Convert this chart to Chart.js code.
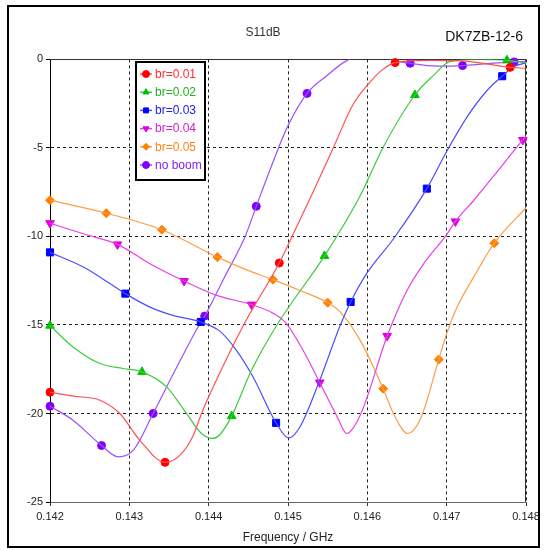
<!DOCTYPE html>
<html>
<head>
<meta charset="utf-8">
<title>S11dB DK7ZB-12-6</title>
<script src="https://cdn.jsdelivr.net/npm/chart.js@4.4.1/dist/chart.umd.min.js"></script>
<style>
  html, body { margin: 0; padding: 0; background: #fff; }
</style>
</head>
<body>
<canvas id="chart" width="545" height="550"></canvas>
<script>
// axis ticks
const xTicks = [0.142, 0.143, 0.144, 0.145, 0.146, 0.147, 0.148];
const yTicks = [0, -5, -10, -15, -20, -25];
const names = ['br=0.01', 'br=0.02', 'br=0.03', 'br=0.04', 'br=0.05', 'no boom'];

// S11 curves, [GHz, dB] (points between the markers)
const curve001 = [[0.1423,-19.02],[0.14263,-19.25],[0.14288,-20.0],[0.14313,-21.5],[0.14364,-22.35],[0.1438,-21.3],[0.14391,-20.0],[0.144,-19.06],[0.14444,-15.0],[0.14503,-10.2],[0.1453,-7.65],[0.14557,-5.0],[0.14582,-2.55],[0.14604,-1.25],[0.1462,-0.55],[0.1468,-0.05],[0.1472,-0.08],[0.1475,-0.25],[0.148,-0.5]];
const curve002 = [[0.14229,-16.24],[0.14263,-17.18],[0.14292,-17.46],[0.14347,-18.5],[0.14372,-20.0],[0.14391,-21.13],[0.14405,-21.41],[0.14414,-21.2],[0.14454,-17.56],[0.14486,-15.0],[0.14591,-7.7],[0.1462,-4.96],[0.14683,-0.92],[0.14704,-0.13],[0.1474,0.0],[0.148,-0.2]];
const curve003 = [[0.14242,-11.73],[0.14276,-12.67],[0.14326,-13.99],[0.14355,-14.46],[0.14414,-15.35],[0.14435,-16.43],[0.14456,-17.94],[0.14501,-21.38],[0.14515,-20.76],[0.1454,-18.12],[0.14566,-15.0],[0.14599,-12.1],[0.14633,-10.13],[0.147,-5.2],[0.14725,-3.3],[0.1475,-1.8],[0.14785,-0.4],[0.148,-0.2]];
const curve004 = [[0.14242,-9.85],[0.14326,-11.54],[0.1441,-13.33],[0.14482,-14.36],[0.14498,-14.92],[0.14519,-16.43],[0.14562,-20.19],[0.14574,-21.13],[0.14591,-20.1],[0.1465,-13.05],[0.14671,-11.54],[0.147,-9.9],[0.14734,-7.97],[0.14759,-6.6],[0.148,-4.35]];
const curve005 = [[0.14444,-11.82],[0.14515,-13.05],[0.14566,-14.27],[0.14591,-15.87],[0.14635,-20.2],[0.14651,-21.13],[0.14667,-20.3],[0.147,-15.5],[0.14713,-14.0],[0.14734,-12.3],[0.148,-8.38]];
const curveNoBoom = [[0.14229,-20.38],[0.14286,-22.45],[0.14305,-22.07],[0.14355,-17.8],[0.14388,-15.0],[0.1442,-12.3],[0.14446,-10.0],[0.14488,-5.0],[0.145,-3.74],[0.14549,-0.92],[0.14574,-0.07],[0.146,0.25],[0.1462,0.15],[0.14635,-0.07],[0.14688,-0.38],[0.14755,-0.22],[0.148,-0.12]];

// marker points of each curve
const marks001 = [[0.142,-18.8],[0.14345,-22.76],[0.14489,-11.5],[0.14635,-0.18],[0.1478,-0.45]];
const marks002 = [[0.142,-15.04],[0.14316,-17.65],[0.14429,-20.15],[0.14546,-11.1],[0.1466,-2.01],[0.14776,-0.05]];
const marks003 = [[0.142,-10.9],[0.14295,-13.23],[0.1439,-14.83],[0.14485,-20.53],[0.14579,-13.7],[0.14675,-7.3],[0.1477,-0.95]];
const marks004 = [[0.142,-9.25],[0.14285,-10.45],[0.14369,-12.52],[0.14454,-13.85],[0.1454,-18.25],[0.14625,-15.62],[0.14711,-9.15],[0.14796,-4.55]];
const marks005 = [[0.142,-7.95],[0.14271,-8.69],[0.14341,-9.62],[0.14411,-11.17],[0.14481,-12.44],[0.1455,-13.74],[0.1462,-18.6],[0.1469,-16.95],[0.1476,-10.38]];
const marksNoBoom = [[0.142,-19.59],[0.14265,-21.81],[0.1433,-20.0],[0.14395,-14.5],[0.1446,-8.3],[0.14524,-1.92],[0.14654,-0.22],[0.1472,-0.35],[0.14785,-0.15]];

const curves = [curve001, curve002, curve003, curve004, curve005, curveNoBoom];
const marks = [marks001, marks002, marks003, marks004, marks005, marksNoBoom];

// look of each series
const styles = [
  { line: '#ff5050', mark: '#ff0000', text: '#ff2a2a', shape: 'circle', rot: 0, r: 4 },
  { line: '#3ccc3c', mark: '#00c000', text: '#20b020', shape: 'triangle', rot: 0, r: 5 },
  { line: '#4d4dff', mark: '#0000ff', text: '#2020f0', shape: 'rect', rot: 0, r: 5 },
  { line: '#e640e6', mark: '#e000e0', text: '#d020d0', shape: 'triangle', rot: 180, r: 5 },
  { line: '#ff9d45', mark: '#ff8000', text: '#ff8010', shape: 'rectRot', rot: 0, r: 4.5 },
  { line: '#9d50ff', mark: '#8000ff', text: '#8020f0', shape: 'circle', rot: 0, r: 4 }
];

const FONT = '"Liberation Sans", Arial, sans-serif';
const toXY = arr => arr.map(([x, y]) => ({ x, y }));

const datasets = [];
curves.forEach((c, i) => {
  const s = styles[i];
  const pts = c.concat(marks[i]).sort((a, b) => a[0] - b[0]);
  datasets.push({
    label: names[i], data: toXY(pts), borderColor: s.line, borderWidth: 1.2,
    pointRadius: 0, cubicInterpolationMode: 'monotone', fill: false
  });
  datasets.push({
    label: names[i] + ' markers', data: toXY(marks[i]), showLine: false,
    pointStyle: s.shape, pointRotation: s.rot, pointRadius: s.r,
    backgroundColor: s.mark, borderColor: s.mark, borderWidth: 1, clip: false
  });
});

// frame, box round plot, header text and in-plot legend
const decor = {
  id: 'decor',
  beforeDatasetsDraw(chart) {
    const { ctx, chartArea: a } = chart;
    ctx.save();
    ctx.strokeStyle = '#333';
    ctx.lineWidth = 1;
    ctx.beginPath();
    ctx.moveTo(a.left, Math.round(a.top) + 0.5);
    ctx.lineTo(a.right, Math.round(a.top) + 0.5);
    ctx.moveTo(Math.round(a.right) - 0.5, a.top);
    ctx.lineTo(Math.round(a.right) - 0.5, a.bottom);
    ctx.stroke();
    ctx.restore();
  },
  afterDraw(chart) {
    const ctx = chart.ctx;
    ctx.save();
    // outer frame
    ctx.strokeStyle = '#000';
    ctx.lineWidth = 2;
    ctx.strokeRect(8, 6, 531, 541);
    // right-hand header
    ctx.fillStyle = '#111';
    ctx.font = '14px ' + FONT;
    ctx.textAlign = 'right';
    ctx.textBaseline = 'middle';
    ctx.fillText('DK7ZB-12-6', 523, 37);
    // legend
    ctx.fillStyle = '#fff';
    ctx.fillRect(136, 62, 69, 118);
    ctx.strokeStyle = '#000';
    ctx.lineWidth = 2;
    ctx.strokeRect(136, 62, 69, 118);
    ctx.textAlign = 'left';
    ctx.font = '12px ' + FONT;
    names.forEach((n, i) => {
      const s = styles[i];
      const y = 74 + i * 18.2;
      ctx.strokeStyle = s.line;
      ctx.lineWidth = 1.5;
      ctx.beginPath();
      ctx.moveTo(140, y);
      ctx.lineTo(152, y);
      ctx.stroke();
      ctx.fillStyle = s.mark;
      ctx.strokeStyle = s.mark;
      ctx.lineWidth = 1;
      Chart.helpers.drawPoint(ctx, { pointStyle: s.shape, rotation: s.rot, radius: 3.5, borderWidth: 1 }, 146, y);
      ctx.fillStyle = s.text;
      ctx.fillText(n, 155, y + 0.5);
    });
    ctx.restore();
  }
};

new Chart(document.getElementById('chart'), {
  type: 'line',
  data: { datasets },
  plugins: [decor],
  options: {
    responsive: false,
    animation: false,
    layout: { padding: { left: 0, right: 19, top: 0, bottom: 0 } },
    plugins: {
      legend: { display: false },
      tooltip: { enabled: false },
      title: {
        display: true, text: 'S11dB', color: '#333',
        font: { family: FONT, size: 12, weight: 'normal' },
        padding: { top: 25, bottom: 20 }
      }
    },
    scales: {
      x: {
        type: 'linear', min: 0.142, max: 0.148,
        afterFit(scale) { scale.height = 48; },
        afterBuildTicks(scale) { scale.ticks = xTicks.map(v => ({ value: v })); },
        ticks: { color: '#222', font: { family: FONT, size: 11 }, padding: 4, maxRotation: 0,
                 callback: v => Number(v).toFixed(3) },
        grid: { color: '#222', tickColor: '#333', tickLength: 4, tickBorderDash: [1, 0] },
        border: { color: '#666', width: 1, dash: [3, 3] },
        title: { display: true, text: 'Frequency / GHz', color: '#222',
                 font: { family: FONT, size: 12 }, padding: { top: 0, bottom: 5 } }
      },
      y: {
        type: 'linear', min: -25, max: 0,
        afterFit(scale) { scale.width = 50; },
        afterBuildTicks(scale) { scale.ticks = yTicks.map(v => ({ value: v })); },
        ticks: { color: '#222', font: { family: FONT, size: 11 }, padding: 3 },
        grid: { color: '#222', tickColor: '#000', tickLength: 4, tickBorderDash: [1, 0] },
        border: { color: '#000', width: 1, dash: [3, 3] }
      }
    }
  }
});
</script>
</body>
</html>
